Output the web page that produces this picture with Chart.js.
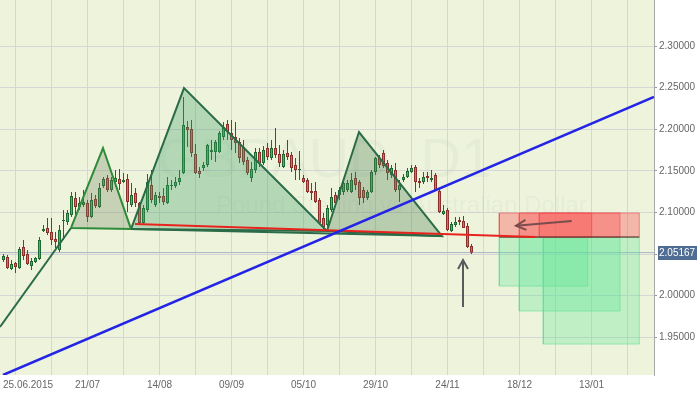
<!DOCTYPE html>
<html>
<head>
<meta charset="utf-8">
<script src="https://cdn.jsdelivr.net/npm/chart.js@4/dist/chart.umd.min.js"></script>
<style>
html,body{margin:0;padding:0;background:#ffffff;}
#wrap{width:700px;height:394px;position:relative;}
</style>
</head>
<body>
<div id="wrap"><canvas id="c" width="700" height="394"></canvas></div>
<script>
// ---------- DATA (GBPAUD, D1) ----------
const firstBar = -3; // bar index of the first candle (index 0 = 25.06.2015)
const opens = [2.0428,2.0464,2.0320,2.0392,2.0332,2.0584,2.0500,2.0356,2.0404,2.0440,
2.0777,2.0813,2.0765,2.0681,2.0548,2.0897,2.0885,2.0969,2.1173,2.1065,
2.1089,2.1113,2.0945,2.1161,2.1065,2.1317,2.1413,2.1269,2.1365,2.1401,
2.1365,2.1401,2.1089,2.1233,2.1113,2.0873,2.1029,2.1329,2.1089,2.1197,
2.1197,2.1113,2.1317,2.1317,2.1365,2.1474,2.2027,2.2003,2.1702,2.1498,
2.1534,2.1570,2.1726,2.1726,2.1726,2.1906,2.2063,2.1954,2.1906,2.1846,
2.1786,2.1630,2.1413,2.1510,2.1726,2.1594,2.1774,2.1654,2.1774,2.1702,
2.1546,2.1714,2.1690,2.1570,2.1510,2.1413,2.1389,2.1257,2.1257,2.1149,
2.0933,2.0849,2.1029,2.1209,2.1209,2.1245,2.1269,2.1245,2.1413,2.1365,
2.1269,2.1173,2.1245,2.1486,2.1654,2.1714,2.1594,2.1450,2.1510,2.1269,
2.1389,2.1425,2.1486,2.1546,2.1377,2.1365,2.1437,2.1389,2.1450,2.1257,
2.0981,2.1029,2.0777,2.0849,2.0909,2.0897,2.0837,2.0596];
const highs = [2.0500,2.0488,2.0428,2.0404,2.0584,2.0668,2.0548,2.0452,2.0464,2.0704,
2.0849,2.0933,2.0933,2.0765,2.0849,2.1029,2.1029,2.1245,2.1245,2.1185,
2.1269,2.1149,2.1233,2.1209,2.1353,2.1425,2.1449,2.1425,2.1510,2.1522,
2.1474,2.1462,2.1353,2.1293,2.1125,2.1089,2.1462,2.1510,2.1245,2.1245,
2.1293,2.1425,2.1389,2.1425,2.1510,2.2387,2.2099,2.2111,2.1822,2.1546,
2.1606,2.1822,2.1870,2.1870,2.1978,2.2087,2.2111,2.2111,2.2087,2.1894,
2.1870,2.1666,2.1606,2.1774,2.1774,2.1798,2.1834,2.1870,2.2014,2.1810,
2.1750,2.1870,2.1726,2.1654,2.1738,2.1449,2.1413,2.1353,2.1365,2.1173,
2.0993,2.1089,2.1293,2.1245,2.1305,2.1389,2.1389,2.1474,2.1486,2.1389,
2.1305,2.1269,2.1510,2.1666,2.1690,2.1750,2.1630,2.1570,2.1594,2.1389,
2.1462,2.1534,2.1570,2.1570,2.1413,2.1486,2.1486,2.1510,2.1474,2.1293,
2.1089,2.1053,2.0885,2.0945,2.0945,2.0957,2.0873,2.0620];
const lows = [2.0404,2.0320,2.0308,2.0272,2.0320,2.0428,2.0368,2.0308,2.0392,2.0428,
2.0765,2.0729,2.0608,2.0572,2.0524,2.0668,2.0849,2.0945,2.0969,2.1029,
2.1065,2.0885,2.0933,2.1053,2.1053,2.1293,2.1245,2.1245,2.1305,2.1269,
2.1353,2.1005,2.1065,2.1065,2.0849,2.0861,2.1005,2.1113,2.1065,2.1113,
2.1089,2.1101,2.1269,2.1293,2.1329,2.1462,2.1786,2.1666,2.1462,2.1413,
2.1498,2.1546,2.1630,2.1606,2.1714,2.1870,2.1870,2.1750,2.1714,2.1594,
2.1570,2.1450,2.1365,2.1474,2.1546,2.1570,2.1630,2.1630,2.1654,2.1546,
2.1534,2.1630,2.1486,2.1389,2.1389,2.1353,2.1233,2.1149,2.1113,2.0849,
2.0789,2.0825,2.1005,2.1089,2.1149,2.1209,2.1245,2.1233,2.1269,2.1089,
2.1113,2.1149,2.1233,2.1450,2.1534,2.1534,2.1389,2.1413,2.1245,2.1125,
2.1365,2.1413,2.1474,2.1245,2.1293,2.1341,2.1365,2.1365,2.1257,2.0993,
2.0969,2.0777,2.0765,2.0825,2.0849,2.0813,2.0572,2.0500];
const closes = [2.0476,2.0332,2.0380,2.0344,2.0560,2.0476,2.0380,2.0416,2.0452,2.0668,
2.0801,2.0753,2.0668,2.0644,2.0789,2.0909,2.0993,2.1197,2.1065,2.1113,
2.1125,2.0945,2.1149,2.1077,2.1293,2.1401,2.1269,2.1389,2.1413,2.1341,
2.1389,2.1125,2.1209,2.1113,2.0873,2.1053,2.1365,2.1149,2.1209,2.1173,
2.1125,2.1329,2.1329,2.1365,2.1413,2.2051,2.1990,2.1714,2.1474,2.1462,
2.1570,2.1810,2.1750,2.1846,2.1954,2.2027,2.1966,2.1870,2.1834,2.1654,
2.1606,2.1474,2.1522,2.1726,2.1594,2.1750,2.1666,2.1774,2.1690,2.1594,
2.1702,2.1666,2.1534,2.1510,2.1522,2.1365,2.1245,2.1233,2.1125,2.0873,
2.0825,2.1053,2.1185,2.1113,2.1269,2.1353,2.1353,2.1389,2.1329,2.1173,
2.1173,2.1245,2.1486,2.1654,2.1570,2.1558,2.1474,2.1534,2.1269,2.1329,
2.1425,2.1498,2.1534,2.1365,2.1353,2.1425,2.1413,2.1413,2.1269,2.1005,
2.1017,2.0789,2.0861,2.0885,2.0885,2.0813,2.0584,2.05167];

// x axis: bar index -> date labels
const tickIndex  = [0, 18, 36, 54, 72, 90, 108, 126, 144];
const tickLabels = ['25.06.2015','21/07','14/08','09/09','05/10','29/10','24/11','18/12','13/01'];
const gridStep = 9;
const priceTicks = [1.95, 2.00, 2.05, 2.10, 2.15, 2.20, 2.25, 2.30];
const lastPrice = 2.05167;
const xRange = [-3.875, 159.625];
const yRange = [1.9046, 2.3553];

// chart drawings, points as [bar index, price]
const risingLine = [[-3.875, 1.9623], [13.875, 2.0813]];
const triangleA  = [[13.875, 2.0813], [21.875, 2.1774], [28.875, 2.0800]];
const triangleB  = [[28.875, 2.0800], [42.125, 2.2495], [77.875, 2.0777]];
const triangleC  = [[77.875, 2.0777], [85.875, 2.1966], [106.625, 2.0716]];
const neckGreen  = [[28.875, 2.0800], [106.625, 2.0716]];
const neckRed    = [[29.875, 2.0861], [129.875, 2.0704]];
const trendBlue  = [[-3.125, 1.9046], [159.625, 2.2387]];
const upArrowShaft = [[111.875, 1.9863], [111.875, 2.0428]];
const upArrowHead  = [[110.625, 2.0320], [111.875, 2.0428], [113.125, 2.0320]];
const leftArrowShaft = [[139.05, 2.0897], [125.125, 2.0840]];
const leftArrowHead  = [[127.5, 2.0910], [125.125, 2.0840], [127.725, 2.0791]];
// position boxes: [from bar, to bar, price a, price b]
const entryPrice = 2.0704;
const stopBoxes   = [[120.95, 144.05, 2.0704, 2.0993], [125.95, 151.125, 2.0704, 2.0993], [130.95, 155.95, 2.0704, 2.0993]];
const targetBoxes = [[120.95, 143.05, 2.0115, 2.0704], [125.95, 151.125, 1.9815, 2.0704], [131.95, 155.95, 1.9418, 2.0704]];
const entryLine = [[120.95, entryPrice], [155.95, entryPrice]];

// ---------- BUILD ----------
const pts = arr => arr.map(p => ({x: p[0], y: p[1]}));
const closed = arr => pts(arr.concat([arr[0]]));
const boxPath = b => pts([[b[0], b[2]], [b[1], b[2]], [b[1], b[3]], [b[0], b[3]], [b[0], b[2]]]);
const isUp = k => closes[k] >= opens[k];
const GREEN_FILL = '#52b35e', GREEN_LINE = '#1d6a31', RED_FILL = '#e46460', RED_LINE = '#8c2f2a';

function lineDs(data, color, width, order, extra) {
  return Object.assign({type: 'line', data: data, borderColor: color, borderWidth: width,
    pointRadius: 0, pointHoverRadius: 0, tension: 0, fill: false, order: order}, extra || {});
}

const datasets = [];
datasets.push(lineDs(pts([[xRange[0], lastPrice], [xRange[1], lastPrice]]), '#a6b3c8', 1, 20));
datasets.push({type: 'bar', label: 'wick', order: 12, grouped: false, barThickness: 1, inflateAmount: 0,
  borderWidth: 0, minBarLength: 1,
  data: opens.map((o, k) => ({x: firstBar + k, y: [lows[k], highs[k]]})),
  backgroundColor: c => isUp(c.dataIndex) ? GREEN_LINE : RED_LINE});
datasets.push({type: 'bar', label: 'body', order: 11, grouped: false, barThickness: 3, inflateAmount: 0,
  borderWidth: 1, borderSkipped: false, minBarLength: 1,
  data: opens.map((o, k) => ({x: firstBar + k, y: [o, closes[k]]})),
  backgroundColor: c => isUp(c.dataIndex) ? GREEN_FILL : RED_FILL,
  borderColor: c => isUp(c.dataIndex) ? GREEN_LINE : RED_LINE});
stopBoxes.forEach(b => datasets.push(lineDs(boxPath(b), 'rgba(238,70,70,0.55)', 1, 9,
  {fill: 'shape', backgroundColor: 'rgba(250,85,85,0.38)'})));
targetBoxes.forEach(b => datasets.push(lineDs(boxPath(b), 'rgba(90,220,150,0.55)', 1, 9,
  {fill: 'shape', backgroundColor: 'rgba(85,228,150,0.30)'})));
datasets.push(lineDs(pts(entryLine), 'rgba(30,30,30,0.75)', 1, 8));
datasets.push(lineDs(closed(triangleA), '#2e8b38', 2, 7, {fill: 'shape', backgroundColor: 'rgba(105,130,95,0.30)'}));
datasets.push(lineDs(closed(triangleB), '#2a6b48', 2, 7, {fill: 'shape', backgroundColor: 'rgba(60,160,100,0.32)'}));
datasets.push(lineDs(closed(triangleC), '#2a6b48', 2, 7, {fill: 'shape', backgroundColor: 'rgba(80,130,85,0.34)'}));
datasets.push(lineDs(pts(risingLine), '#2a6b48', 2, 6));
datasets.push(lineDs(pts(neckGreen), '#2a6b48', 2, 6));
datasets.push(lineDs(pts(neckRed), '#e8231e', 2, 5));
datasets.push(lineDs(pts(trendBlue), '#2424e6', 2.5, 4));
datasets.push(lineDs(pts(upArrowShaft), '#5a5a5a', 2, 3));
datasets.push(lineDs(pts(upArrowHead), '#5a5a5a', 2, 3));
datasets.push(lineDs(pts(leftArrowShaft), '#7a4c4c', 2, 3));
datasets.push(lineDs(pts(leftArrowHead), '#7a4c4c', 2, 3));

const FONT = '"Liberation Sans", Arial, sans-serif';

const bgPlugin = {
  id: 'bg',
  beforeDraw(chart) {
    const a = chart.chartArea, ctx = chart.ctx;
    ctx.save();
    ctx.fillStyle = '#ffffff';
    ctx.fillRect(0, 0, chart.width, chart.height);
    ctx.fillStyle = '#eef4dc';
    ctx.fillRect(a.left, a.top, a.right - a.left, a.bottom - a.top);
    ctx.restore();
  },
  beforeDatasetsDraw(chart) {
    const a = chart.chartArea, ctx = chart.ctx;
    ctx.save();
    ctx.fillStyle = 'rgba(170,175,165,0.10)';
    ctx.textAlign = 'left';
    ctx.textBaseline = 'alphabetic';
    ctx.font = '56px ' + FONT;
    ctx.fillText('GBPAUD, D1', a.left + 157, a.top + 177);
    ctx.font = '24px ' + FONT;
    ctx.fillText('Pound Sterling vs Australian Dollar', a.left + 216, a.top + 213);
    ctx.restore();
  },
  afterDraw(chart) {
    const ctx = chart.ctx, xs = chart.scales.x, ys = chart.scales.y, a = chart.chartArea;
    ctx.save();
    ctx.font = '10px ' + FONT;
    ctx.fillStyle = '#666666';
    ctx.textBaseline = 'middle';
    ctx.textAlign = 'center';
    tickIndex.forEach((v, k) => {
      const w = ctx.measureText(tickLabels[k]).width;
      let x = xs.getPixelForValue(v);
      x = Math.max(x, w / 2 + 3);
      ctx.fillText(tickLabels[k], x, a.bottom + 10);
    });
    const y = ys.getPixelForValue(lastPrice);
    ctx.fillStyle = '#4f6d93';
    ctx.fillRect(a.right + 4, Math.round(y) - 7, 39, 14);
    ctx.fillStyle = '#ffffff';
    ctx.textAlign = 'left';
    ctx.fillText(lastPrice.toFixed(5), a.right + 5, Math.round(y));
    ctx.restore();
  }
};

new Chart(document.getElementById('c'), {
  type: 'bar',
  data: {datasets: datasets},
  options: {
    responsive: false, animation: false, devicePixelRatio: 1,
    layout: {padding: 0},
    plugins: {legend: {display: false}, tooltip: {enabled: false}},
    events: [],
    scales: {
      x: {
        type: 'linear', min: xRange[0], max: xRange[1], offset: false,
        afterBuildTicks: s => { const t = []; for (let v = 0; v <= xRange[1]; v += gridStep) t.push({value: v}); s.ticks = t; },
        afterFit: s => { s.height = 19; s.paddingLeft = 0; s.paddingRight = 0; },
        grid: {color: '#d6d6d6', lineWidth: 1, drawTicks: false, offset: false},
        border: {display: false},
        ticks: {display: false}
      },
      y: {
        position: 'right', min: yRange[0], max: yRange[1],
        afterBuildTicks: s => { s.ticks = priceTicks.map(v => ({value: v})); },
        afterFit: s => { s.width = 46; s.paddingTop = 0; s.paddingBottom = 0; },
        grid: {color: '#d6d6d6', lineWidth: 1, tickLength: 3, tickColor: '#9a9a9a', offset: false},
        border: {color: '#a8a8a8', width: 1},
        ticks: {font: {size: 10, family: FONT}, color: '#666666', padding: 2,
          callback: v => Number(v).toFixed(5)}
      }
    }
  },
  plugins: [bgPlugin]
});
</script>
</body>
</html>
